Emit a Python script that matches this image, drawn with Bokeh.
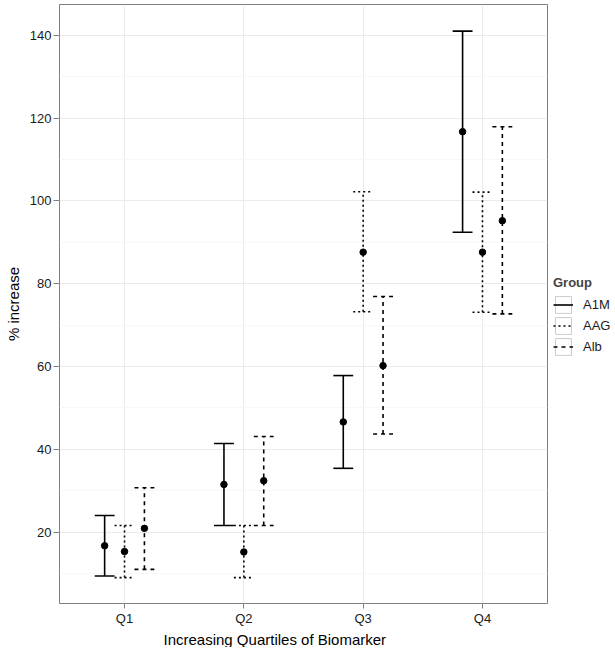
from bokeh.plotting import figure
from bokeh.models import (ColumnDataSource, FixedTicker, Legend, LegendItem, Title)
from bokeh.core.properties import value
from bokeh.embed import file_html
from bokeh.resources import INLINE

# ---- data ----
quartiles = ["Q1", "Q2", "Q3", "Q4"]
groups = ["A1M", "AAG", "Alb"]
a1m_mid = [16.7, 31.5, 46.6, 116.7]
a1m_low = [9.4, 21.6, 35.4, 92.4]
a1m_high = [24.0, 41.4, 57.8, 141.0]
aag_mid = [15.3, 15.2, 87.6, 87.6]
aag_low = [9.0, 9.0, 73.2, 73.1]
aag_high = [21.6, 21.6, 102.2, 102.1]
alb_mid = [20.9, 32.4, 60.2, 95.2]
alb_low = [11.0, 21.6, 43.7, 72.7]
alb_high = [30.7, 43.1, 76.9, 117.9]

series = [
    ("A1M", a1m_mid, a1m_low, a1m_high, "solid"),
    ("AAG", aag_mid, aag_low, aag_high, "2 3"),
    ("Alb", alb_mid, alb_low, alb_high, "4 4"),
]

FONT = "Liberation Sans"
dodge = 1.0 / 6.0
cap_half = 1.0 / 12.0

p = figure(frame_width=488, frame_height=599, output_backend="svg",
           toolbar_location=None,
           x_range=(0.455, 4.545), y_range=(2.75, 147.42),
           min_border_left=59, min_border_right=64, min_border_top=4,
           min_border_bottom=36)

p.background_fill_color = "white"
p.border_fill_color = "white"
p.outline_line_color = "#7f7f7f"
p.outline_line_width = 1

# grids
p.xgrid.ticker = FixedTicker(ticks=[1, 2, 3, 4])
p.xgrid.grid_line_color = "#ebebeb"
p.ygrid.grid_line_color = "#ebebeb"
p.ygrid.minor_grid_line_color = "#f7f7f7"

# axes
p.xaxis.ticker = FixedTicker(ticks=[1, 2, 3, 4])
p.xaxis.major_label_overrides = {i + 1: q for i, q in enumerate(quartiles)}
p.yaxis.ticker = FixedTicker(ticks=[20, 40, 60, 80, 100, 120, 140],
                             minor_ticks=[10, 30, 50, 70, 90, 110, 130, 150])
for ax in (p.xaxis[0], p.yaxis[0]):
    ax.axis_line_color = None
    ax.major_tick_line_color = "#7f7f7f"
    ax.major_tick_out = 6
    ax.major_tick_in = 0
    ax.minor_tick_line_color = None
    ax.major_label_text_font = FONT
    ax.major_label_text_font_size = "13px"
    ax.major_label_text_color = "#1a1a1a"
    ax.major_label_standoff = 2
    ax.axis_label_text_font = FONT
    ax.axis_label_text_font_size = "15px"
    ax.axis_label_text_font_style = "normal"
    ax.axis_label_text_color = "black"
p.xaxis.major_tick_out = 5
p.yaxis.axis_label = "% increase"
p.yaxis.axis_label_standoff = 5
p.add_layout(Title(text="Increasing Quartiles of Biomarker", text_font=FONT,
                   text_font_size="15px", text_font_style="normal",
                   text_color="black",
                   align="left", offset=104, standoff=0), "below")

legend_items = []
for gi, (name, mid, low, high, dash) in enumerate(series):
    off = (gi - 1) * dodge
    xs = [i + 1 + off for i in range(len(quartiles))]
    src = ColumnDataSource(dict(x=xs, mid=mid, low=low, high=high,
                                x0=[x - cap_half for x in xs],
                                x1=[x + cap_half for x in xs]))
    seg = p.segment(x0="x", y0="low", x1="x", y1="high", source=src,
                    line_color="black", line_width=1.6, line_dash=value(dash))
    p.segment(x0="x0", y0="high", x1="x1", y1="high", source=src,
              line_color="black", line_width=1.6, line_dash=value(dash))
    p.segment(x0="x0", y0="low", x1="x1", y1="low", source=src,
              line_color="black", line_width=1.6, line_dash=value(dash))
    p.scatter(x="x", y="mid", source=src, size=6.5, color="black")
    box = p.rect(x=[-100], y=[-100], width=0.01, height=0.01, fill_color="white",
                 line_color="#cccccc", line_width=1)
    legend_items.append(LegendItem(label=name, renderers=[box, seg]))

legend = Legend(items=legend_items, title="Group", location=(6, 246),
                title_text_font=FONT, title_text_font_style="bold",
                title_text_font_size="13px", title_standoff=4,
                label_text_font=FONT, label_text_font_size="13px",
                label_text_color="#1a1a1a",
                glyph_width=20, glyph_height=21, spacing=0,
                label_standoff=10, padding=4, margin=0,
                border_line_color=None, background_fill_color="white")
p.add_layout(legend, "right")

open("out.html", "w").write(file_html(p, INLINE))
